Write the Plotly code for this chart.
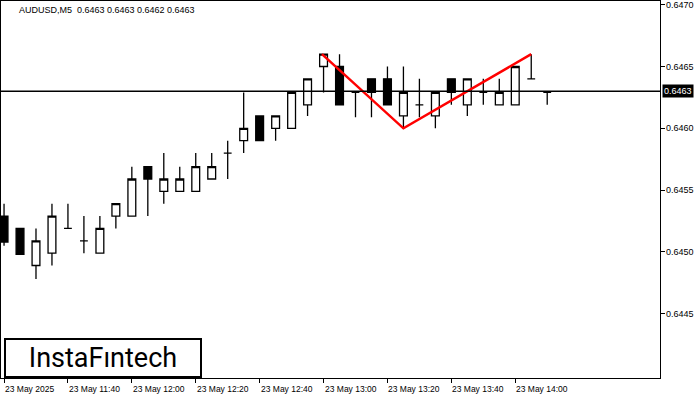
import plotly.graph_objects as go

opens  = [0.64529,0.64519,0.64489,0.64499,0.64519,0.64509,0.64499,0.64529,0.64529,0.64569,0.64549,0.64549,0.64549,0.64559,0.64580,0.64590,0.64610,0.64600,0.64600,0.64619,0.64650,0.64650,0.64629,0.64640,0.64640,0.64610,0.64619,0.64610,0.64640,0.64619,0.64629,0.64619,0.64619,0.64640,0.64629]
highs  = [0.64539,0.64519,0.64519,0.64539,0.64539,0.64529,0.64529,0.64539,0.64569,0.64569,0.64580,0.64569,0.64580,0.64580,0.64590,0.64629,0.64610,0.64610,0.64629,0.64640,0.64660,0.64660,0.64629,0.64640,0.64650,0.64650,0.64640,0.64629,0.64640,0.64640,0.64640,0.64640,0.64650,0.64660,0.64629]
lows   = [0.64505,0.64498,0.64478,0.64489,0.64519,0.64499,0.64499,0.64519,0.64529,0.64529,0.64539,0.64549,0.64549,0.64559,0.64559,0.64580,0.64590,0.64590,0.64600,0.64610,0.64629,0.64619,0.64609,0.64609,0.64619,0.64600,0.64609,0.64600,0.64619,0.64610,0.64619,0.64619,0.64619,0.64640,0.64619]
closes = [0.64508,0.64498,0.64509,0.64529,0.64519,0.64509,0.64519,0.64539,0.64559,0.64559,0.64559,0.64559,0.64569,0.64569,0.64580,0.64600,0.64590,0.64610,0.64629,0.64640,0.64660,0.64619,0.64629,0.64629,0.64619,0.64629,0.64619,0.64629,0.64629,0.64640,0.64629,0.64629,0.64650,0.64640,0.64629]

pattern_x = [19.9, 25, 33]
pattern_y = [0.64660, 0.64600, 0.64660]

tick_idx = [0, 4, 8, 12, 16, 20, 24, 28, 32]
tick_labels = ["23 May 2025", "23 May 11:40", "23 May 12:00", "23 May 12:20", "23 May 12:40",
               "23 May 13:00", "23 May 13:20", "23 May 13:40", "23 May 14:00"]
price_ticks = [0.6445, 0.6450, 0.6455, 0.6460, 0.6465, 0.6470]
current = 0.6463

idx = list(range(len(opens)))
fig = go.Figure()
fig.add_trace(go.Candlestick(
    x=idx, open=opens, high=highs, low=lows, close=closes,
    increasing=dict(line=dict(color="black", width=1.3), fillcolor="white"),
    decreasing=dict(line=dict(color="black", width=1.3), fillcolor="black"),
    whiskerwidth=0, showlegend=False, hoverinfo="skip"))
fig.add_hline(y=current, line=dict(color="black", width=1.3))
fig.add_trace(go.Scatter(x=pattern_x, y=pattern_y, mode="lines",
                         line=dict(color="#ff0000", width=2.5), showlegend=False))

annotations = [
    dict(xref="paper", yref="paper", x=0.025, y=0.995, xanchor="left", yanchor="top",
         text="AUDUSD,M5  0.6463 0.6463 0.6462 0.6463", showarrow=False, font=dict(size=9)),
    dict(xref="paper", yref="paper", x=0.005, y=0.0, xanchor="left", yanchor="bottom",
         text="InstaFıntech", showarrow=False, font=dict(size=27, color="black", family="Roboto"),
         bgcolor="white", bordercolor="black", borderwidth=2, borderpad=2, width=190),
]
for i, t in zip(tick_idx, tick_labels):
    annotations.append(dict(xref="x", yref="paper", x=i, y=0, xanchor="left", yanchor="top",
                            yshift=-4, xshift=-1, text=t, showarrow=False, font=dict(size=8.5)))
for p in price_ticks:
    if abs(p - current) > 0.00015:
        annotations.append(dict(xref="paper", yref="y", x=1.0, y=p, xanchor="left",
                                yanchor="middle", xshift=4, text=f"{p:.4f}", showarrow=False,
                                font=dict(size=9)))
annotations.append(dict(xref="paper", yref="y", x=1.0, y=current, xanchor="left", yanchor="middle",
                        xshift=2, text=f"{current:.4f}", showarrow=False, bgcolor="black",
                        font=dict(size=9, color="white"), borderpad=1))

fig.update_layout(
    width=700, height=400, margin=dict(l=1, r=40, t=1, b=22, pad=0, autoexpand=False),
    plot_bgcolor="white", paper_bgcolor="white",
    font=dict(family="Liberation Sans", size=9, color="black"),
    xaxis=dict(range=[-0.19, 41.06], rangeslider=dict(visible=False),
               tickvals=tick_idx, showticklabels=False,
               ticks="outside", ticklen=4, tickcolor="black", showgrid=False, zeroline=False,
               showline=True, linecolor="black", mirror=True),
    yaxis=dict(range=[0.64398, 0.64703], side="right", tickvals=price_ticks, showticklabels=False,
               ticks="outside", ticklen=4, tickcolor="black",
               showgrid=False, zeroline=False, showline=True, linecolor="black", mirror=True),
    annotations=annotations)
fig.write_html("out.html", config={"displayModeBar": False},
               post_script="document.body.style.margin='0';document.body.style.overflow='hidden';")
